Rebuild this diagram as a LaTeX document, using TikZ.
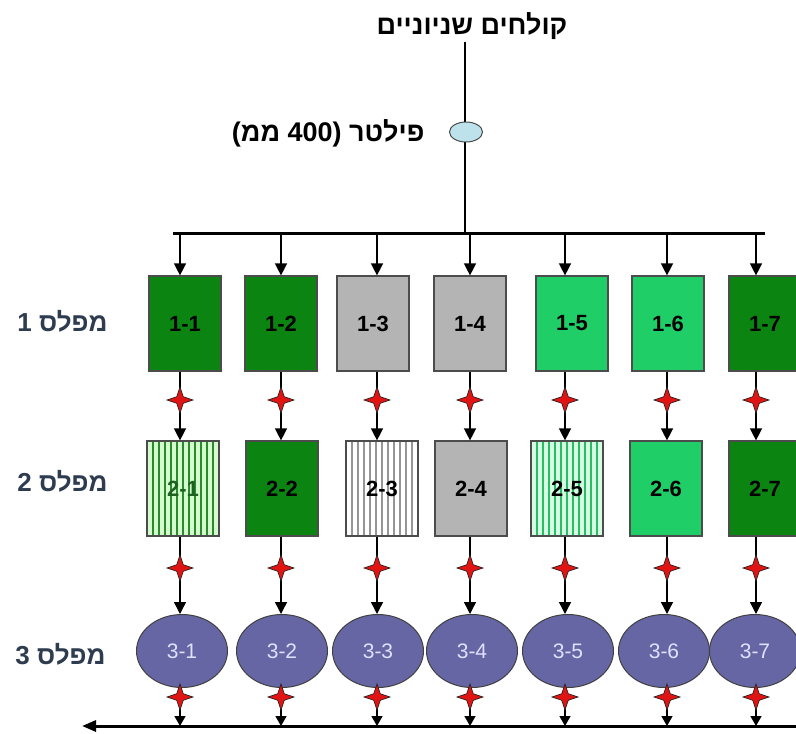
\documentclass[tikz,border=0pt]{standalone}
\usepackage{fontspec}
\setmainfont{Liberation Sans}
\newfontfamily\hebfont[Script=Hebrew]{Liberation Sans}
\TeXXeTstate=1
\usetikzlibrary{shapes.geometric,arrows.meta}

\definecolor{dkgreen}{RGB}{12,132,18}
\definecolor{ltgreen}{RGB}{32,206,104}
\definecolor{ltgray}{RGB}{180,180,180}
\definecolor{palegreen}{RGB}{212,250,205}
\definecolor{stripegreen}{RGB}{40,140,45}
\definecolor{mint}{RGB}{215,252,228}
\definecolor{stripemint}{RGB}{40,190,100}
\definecolor{stripegray}{RGB}{150,150,150}
\definecolor{tankfill}{RGB}{102,102,164}
\definecolor{filterfill}{RGB}{190,226,236}
\definecolor{labelcol}{RGB}{46,60,80}
\definecolor{starred}{RGB}{225,20,20}

\tikzset{
  stage/.style={draw=black!70, line width=1.2pt, minimum width=72pt, minimum height=95pt,
    inner sep=0pt, font=\bfseries\fontsize{22}{22}\selectfont},
  striped/.style n args={3}{fill=#1, path picture={
      \foreach \k in {0,...,12}
        \draw[#2, line width=#3]
          ([xshift=\k*6pt]path picture bounding box.north west) --
          ([xshift=\k*6pt]path picture bounding box.south west);}},
  tank/.style={ellipse, draw=black!75, line width=1pt, fill=tankfill, minimum width=91pt,
    minimum height=73pt, inner sep=0pt, text=white!88!blue, font=\fontsize{21}{21}\selectfont},
  levellabel/.style={text=labelcol, font=\bfseries\fontsize{26}{26}\selectfont},
  conn/.style={line width=1.4pt},
  redstar/.style={star, star points=4, star point ratio=2.8, minimum size=26pt, inner sep=0pt,
    fill=starred, draw=black!85, line width=0.7pt},
  busline/.style={line width=3pt}
}

\begin{document}
\begin{tikzpicture}[x=1pt, y=-1pt, >={Triangle[width=12pt,length=12pt]}]
\path[use as bounding box] (0,0) rectangle (796,734);
\fill[white] (0,0) rectangle (796,734);
\clip (0,0) rectangle (796,734);

% inflow and filter
\node[font=\bfseries\fontsize{27}{27}\selectfont] (title) at (472,26)
  {\hebfont\beginR קולחים שניוניים\endR};
\coordinate (top) at (465,42);
\coordinate (hub) at (465,233);
\draw[line width=2.6pt] (top) -- (hub);
\node[ellipse, draw=black!70, line width=1pt, fill=filterfill, minimum width=33pt,
  minimum height=20pt, inner sep=0pt] (filter) at (466,132) {};
% right-to-left label, pieces set in display order
\node[anchor=east, font=\bfseries\fontsize{27}{27}\selectfont] (flabel) at (428,133)
  {\hbox{(}\hbox{\hebfont ממ}\ \hbox{400)}\ \hbox{\hebfont פילטר}};

% distribution bus
\coordinate (busL) at (173,233);
\coordinate (busR) at (765,233);
\draw[busline] (busL) -- (busR);

% level 1
\node[stage, fill=dkgreen] (b11) at (185,323.5) {1-1};
\node[stage, fill=dkgreen] (b12) at (281,323.5) {1-2};
\node[stage, fill=ltgray]  (b13) at (373,323.5) {1-3};
\node[stage, fill=ltgray]  (b14) at (470,323.5) {1-4};
\node[stage, fill=ltgreen] (b15) at (572,323.5) {1-5};
\node[stage, fill=ltgreen] (b16) at (668,323.5) {1-6};
\node[stage, fill=dkgreen] (b17) at (765,323.5) {1-7};

% level 2
\node[stage, striped={palegreen}{stripegreen}{2.4pt}, text=stripegreen!70!black] (b21) at (183,488.5) {2-1};
\node[stage, fill=dkgreen] (b22) at (282,488.5) {2-2};
\node[stage, striped={white}{stripegray}{1.5pt}] (b23) at (382,488.5) {2-3};
\node[stage, fill=ltgray]  (b24) at (471,488.5) {2-4};
\node[stage, striped={mint}{stripemint}{2.6pt}] (b25) at (567,488.5) {2-5};
\node[stage, fill=ltgreen] (b26) at (666,488.5) {2-6};
\node[stage, fill=dkgreen] (b27) at (765,488.5) {2-7};

% level 3
\node[tank] (e1) at (182,651) {3-1};
\node[tank] (e2) at (282,651) {3-2};
\node[tank] (e3) at (378,651) {3-3};
\node[tank] (e4) at (472,651) {3-4};
\node[tank] (e5) at (568,651) {3-5};
\node[tank] (e6) at (664,651) {3-6};
\node[tank] (e7) at (755,651) {3-7};

% outlet line
\coordinate (outR) at (796,726);
\coordinate (outL) at (82,726);
\draw[busline, -{Triangle[width=11pt,length=14pt]}] (outR) -- (outL);

% level labels
\node[levellabel, anchor=east] (l1) at (111,321) {\hebfont\beginR מפלס 1\endR};
\node[levellabel, anchor=east] (l2) at (111,481) {\hebfont\beginR מפלס 2\endR};
\node[levellabel, anchor=east] (l3) at (109,654) {\hebfont\beginR מפלס 3\endR};

% flow paths with valves
\foreach \i/\x in {1/180,2/281,3/377,4/470,5/565,6/667,7/756} {
  \coordinate (c\i) at (\x,233);
  \draw[conn,->] (c\i) -- (c\i |- b1\i.north);
  \draw[conn,->] (c\i |- b1\i.south) -- (c\i |- b2\i.north);
  \draw[conn,->] (c\i |- b2\i.south) -- (c\i |- e\i.north);
  \draw[conn,-{Triangle[width=11pt,length=10pt]}] (c\i |- e\i.south) -- (c\i |- outL);
  \node[redstar] (va\i) at (\x,400) {};
  \node[redstar] (vb\i) at (\x,568) {};
  \node[redstar] (vc\i) at (\x,697) {};
}
\end{tikzpicture}
\end{document}
